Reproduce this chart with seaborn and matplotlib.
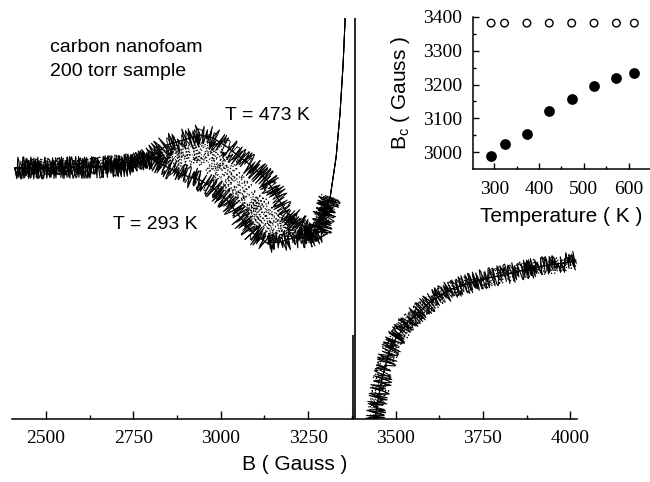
import pandas as pd
import matplotlib
matplotlib.use("Agg")
import matplotlib.pyplot as plt
from matplotlib.ticker import MultipleLocator
import seaborn as sns

# ── ESR spectra (signal in arbitrary units) ──────────────────────────────────
B_293 = [2411, 2511, 2654, 2749, 2798, 2846, 2892, 2941, 2978, 3018, 3055,
         3092, 3132, 3169, 3207, 3247, 3284, 3313, 3330, 3341, 3350, 3356]
S_293 = [251, 251, 252, 254, 261, 252, 244, 239, 231, 219, 202,
         186, 176, 177, 181, 182, 187, 222, 262, 305, 355, 402]

B_473 = [2411, 2511, 2654, 2749, 2798, 2846, 2892, 2941, 2978, 3018, 3055,
         3092, 3132, 3161, 3190, 3227, 3275, 3313, 3330, 3341, 3350, 3356]
S_473 = [251, 251, 252, 254, 261, 274, 279, 284, 281, 272, 262,
         252, 239, 222, 206, 194, 187, 222, 262, 305, 355, 402]

# intermediate temperatures (dotted traces)
B_MID = [2411, 2654, 2798, 2892, 2941, 2989, 3035, 3084, 3132, 3178, 3227, 3275, 3313]
S_MID1 = [251, 253, 259, 262, 266, 246, 222, 209, 192, 182, 184, 186, 222]
S_MID2 = [251, 253, 260, 270, 275, 266, 242, 222, 209, 192, 186, 186, 222]

# high-field branch (all traces overlap)
B_HIGH = [3436, 3443, 3461, 3481, 3500, 3538, 3599, 3660, 3740, 3830, 3920, 4000, 4016]
S_HIGH = [-30, 5, 40, 66, 80, 98, 117, 130, 139, 146, 153, 157, 159]

# off-scale central line
B_CENTER = [3383, 3378]
S_CENTER_TOP = [402, 84]

# ── inset: B_c vs temperature ────────────────────────────────────────────────
TEMP = [293, 323, 373, 423, 473, 523, 573, 613]
BC_FILLED = [2988, 3025, 3054, 3121, 3158, 3196, 3219, 3234]
BC_OPEN = [3381, 3381, 3381, 3381, 3381, 3381, 3381, 3381]

sns.set_theme(style="white")
plt.rcParams["font.family"] = ["Liberation Serif", "DejaVu Serif"]
plt.rcParams["mathtext.fontset"] = "custom"
plt.rcParams["mathtext.rm"] = "Liberation Sans"
plt.rcParams["mathtext.it"] = "Liberation Sans:italic"
plt.rcParams["text.color"] = "black"
plt.rcParams["axes.labelcolor"] = "black"
plt.rcParams["xtick.color"] = "black"
plt.rcParams["ytick.color"] = "black"
SANS = ["Liberation Sans", "DejaVu Sans"]

fig = plt.figure(figsize=(6.5, 4.82), dpi=100)
ax = fig.add_axes([0.0185, 0.1307, 0.8687, 0.8320])


def trace(b, s, ls="-", lw=0.7, sketch=None, cut=None):
    df = pd.DataFrame({"B": b, "S": s})
    sns.lineplot(data=df, x="B", y="S", ax=ax, color="black", lw=0.7,
                 linestyle=ls, estimator=None, sort=False)
    if sketch is not None:
        noisy = df if cut is None else df[df["B"] <= cut]
        sns.lineplot(data=noisy, x="B", y="S", ax=ax, color="black", lw=lw,
                     linestyle=ls, estimator=None, sort=False)
        ax.lines[-1].set_sketch_params(*sketch)


trace(B_293, S_293, lw=0.8, sketch=(11, 1.5, 8), cut=3320)
trace(B_473, S_473, lw=0.8, sketch=(11, 2.0, 8), cut=3320)
trace(B_293, S_293, lw=0.6, sketch=(7, 1.2, 6), cut=3320)
trace(B_473, S_473, lw=0.6, sketch=(7, 1.7, 6), cut=3320)
trace(B_MID, S_MID1, ls=":", lw=0.9, sketch=(9, 1.7, 5))
trace(B_MID, S_MID2, ls=":", lw=0.9, sketch=(9, 2.4, 5))
trace(B_HIGH, S_HIGH, lw=0.8, sketch=(10, 1.5, 8))
trace(B_HIGH, S_HIGH, lw=0.6, sketch=(8, 2.1, 7))
trace(B_HIGH, S_HIGH, ls=":", lw=0.9, sketch=(9, 1.9, 5))
ax.vlines(B_CENTER, 0, S_CENTER_TOP, color="black", lw=1.2)

ax.set_xlim(2403, 4018)
ax.set_ylim(0, 401)
ax.set_yticks([])
for side in ("left", "top", "right"):
    ax.spines[side].set_visible(False)
ax.spines["bottom"].set_color("black")
ax.spines["bottom"].set_linewidth(1.1)
ax.xaxis.set_major_locator(MultipleLocator(250))
ax.xaxis.set_minor_locator(MultipleLocator(125))
ax.tick_params(axis="x", which="major", direction="in", length=6, width=1,
               pad=8, labelsize=14, bottom=True)
ax.tick_params(axis="x", which="minor", direction="in", length=3, width=1,
               bottom=True)
ax.set_xlabel("B ( Gauss )", family=SANS, fontsize=15, labelpad=6)
ax.set_ylabel("")

ax.text(2511, 371, "carbon nanofoam", family=SANS, fontsize=14, va="center")
ax.text(2511, 347, "200 torr sample", family=SANS, fontsize=14, va="center")
ax.text(3012, 303, "T = 473 K", family=SANS, fontsize=14, va="center")
ax.text(2691, 194, "T = 293 K", family=SANS, fontsize=14, va="center")

# ── inset ────────────────────────────────────────────────────────────────────
ins = fig.add_axes([0.728, 0.6494, 0.272, 0.316])
sns.scatterplot(x=TEMP, y=BC_OPEN, ax=ins, marker="o", s=30,
                facecolor="none", edgecolor="black", linewidth=1)
sns.scatterplot(x=TEMP, y=BC_FILLED, ax=ins, marker="o", s=60,
                color="black", edgecolor="black", linewidth=0)
ins.set_xlim(253, 648)
ins.set_ylim(2951, 3400)
ins.patch.set_alpha(0)
for side in ("top", "right"):
    ins.spines[side].set_visible(False)
for side in ("left", "bottom"):
    ins.spines[side].set_color("black")
    ins.spines[side].set_linewidth(1.1)
ins.xaxis.set_major_locator(MultipleLocator(100))
ins.xaxis.set_minor_locator(MultipleLocator(50))
ins.yaxis.set_major_locator(MultipleLocator(100))
ins.yaxis.set_minor_locator(MultipleLocator(50))
ins.tick_params(which="major", direction="in", length=4.5, width=1,
                labelsize=14, bottom=True, left=True)
ins.tick_params(which="minor", direction="in", length=2.5, width=1,
                bottom=True, left=True)
ins.tick_params(axis="x", pad=9)
ins.tick_params(axis="y", pad=8)
ins.set_xlabel("Temperature ( K )", family=SANS, fontsize=15, labelpad=6)
ins.set_ylabel(r"B$_\mathrm{c}$ ( Gauss )", family=SANS, fontsize=15, labelpad=8)

fig.savefig("out.png", dpi=100)
